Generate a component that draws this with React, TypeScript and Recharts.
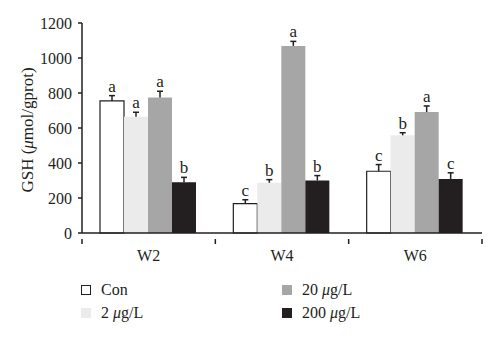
import React from 'react';
import { BarChart, Bar, XAxis, YAxis, LabelList } from 'recharts';

const weeks = ['W2', 'W4', 'W6'];
const seriesNames = ['Con', '2 μg/L', '20 μg/L', '200 μg/L'];

const conVals = [755, 168, 353];
const conErr = [30, 22, 38];
const conLetters = ['a', 'c', 'c'];

const low2Vals = [665, 287, 558];
const low2Err = [25, 18, 15];
const low2Letters = ['a', 'b', 'b'];

const mid20Vals = [774, 1069, 691];
const mid20Err = [36, 26, 35];
const mid20Letters = ['a', 'a', 'a'];

const high200Vals = [290, 300, 309];
const high200Err = [28, 28, 35];
const high200Letters = ['b', 'b', 'c'];

const yTicks = [0, 200, 400, 600, 800, 1000, 1200];

const data = weeks.map((w, i) => ({
  week: w,
  con: conVals[i],
  low2: low2Vals[i],
  mid20: mid20Vals[i],
  high200: high200Vals[i],
}));

const FONT = '"Liberation Serif", serif';
const INK = '#231f20';

// error bar (upward only) + significance letter, from the bar's own geometry
const makeLabel = (errs: number[], letters: string[]) => (props: any) => {
  const { x, y, width, height, value, index } = props;
  const cx = Number(x) + Number(width) / 2;
  const errPx = value ? (errs[index] / value) * Number(height) : 0;
  const top = Number(y) - errPx;
  return (
    <g>
      <line x1={cx} y1={y} x2={cx} y2={top} stroke={INK} strokeWidth={1.5} />
      <line x1={cx - 3} y1={top} x2={cx + 3} y2={top} stroke={INK} strokeWidth={1.5} />
      <text x={cx} y={top - 4} textAnchor="middle" fontFamily={FONT} fontSize={17} fill={INK}>
        {letters[index]}
      </text>
    </g>
  );
};

// category label with tick marks at the band edges
const WeekTick = (props: any) => {
  const { x, y, payload, index } = props;
  const half = payload.offset || 0;
  const axisY = y - 8;
  return (
    <g>
      <line x1={x - half} y1={axisY} x2={x - half} y2={axisY + 5} stroke={INK} strokeWidth={1.5} />
      {index === weeks.length - 1 && (
        <line x1={x + half} y1={axisY} x2={x + half} y2={axisY + 5} stroke={INK} strokeWidth={1.5} />
      )}
      <text x={x} y={y} dy="0.9em" textAnchor="middle" fontFamily={FONT} fontSize={16} fill={INK}>
        {payload.value}
      </text>
    </g>
  );
};

const YLabel = ({ viewBox }: any) => {
  const cx = viewBox.x + 27;
  const cy = viewBox.y + viewBox.height / 2 + 2;
  return (
    <text x={cx} y={cy} transform={`rotate(-90 ${cx} ${cy})`} textAnchor="middle"
      dominantBaseline="central" fontFamily={FONT} fontSize={17} fill={INK}>
      GSH (<tspan fontStyle="italic">μ</tspan>mol/gprot)
    </text>
  );
};

const legendItems = [
  { name: seriesNames[0], fill: '#ffffff', border: INK, left: 81, top: 285 },
  { name: seriesNames[1], fill: '#ebebeb', border: '#ebebeb', left: 81, top: 308 },
  { name: seriesNames[2], fill: '#a6a6a6', border: '#a6a6a6', left: 282, top: 285 },
  { name: seriesNames[3], fill: INK, border: INK, left: 282, top: 308 },
];

function LegendText({ text }: { text: string }) {
  const parts = text.split('μ');
  if (parts.length === 1) return <>{text}</>;
  return <>{parts[0]}<i>μ</i>{parts[1]}</>;
}

export default function App() {
  return (
    <div style={{ position: 'absolute', left: 0, top: 0, width: 500, height: 338, background: '#fff' }}>
      <BarChart width={500} height={338} data={data}
        margin={{ top: 23, right: 18, left: 0, bottom: 75 }}
        barCategoryGap="13.5%" barGap={0}>
        <XAxis dataKey="week" height={30} tickLine={false}
          axisLine={{ stroke: INK, strokeWidth: 1.5 }}
          tick={<WeekTick />} tickMargin={8} />
        <YAxis width={82} domain={[0, 1200]} ticks={yTicks} interval={0}
          axisLine={{ stroke: INK, strokeWidth: 1.5 }} tickLine={{ stroke: INK, strokeWidth: 1.5 }}
          tickSize={4} tickMargin={6}
          tick={{ fontFamily: FONT, fontSize: 16, fill: INK }}
          label={<YLabel />} />
        <Bar dataKey="con" fill="#ffffff" stroke={INK} strokeWidth={1.2} isAnimationActive={false}>
          <LabelList dataKey="con" content={makeLabel(conErr, conLetters)} />
        </Bar>
        <Bar dataKey="low2" fill="#ebebeb" isAnimationActive={false}>
          <LabelList dataKey="low2" content={makeLabel(low2Err, low2Letters)} />
        </Bar>
        <Bar dataKey="mid20" fill="#a6a6a6" isAnimationActive={false}>
          <LabelList dataKey="mid20" content={makeLabel(mid20Err, mid20Letters)} />
        </Bar>
        <Bar dataKey="high200" fill={INK} isAnimationActive={false}>
          <LabelList dataKey="high200" content={makeLabel(high200Err, high200Letters)} />
        </Bar>
      </BarChart>
      {legendItems.map((it) => (
        <div key={it.name} style={{ position: 'absolute', left: it.left, top: it.top, display: 'flex', alignItems: 'center', fontFamily: FONT, fontSize: 16, color: INK, lineHeight: '10px' }}>
          <span style={{ display: 'inline-block', width: 8, height: 8, background: it.fill, border: `1.2px solid ${it.border}` }} />
          <span style={{ marginLeft: 10 }}><LegendText text={it.name} /></span>
        </div>
      ))}
    </div>
  );
}
